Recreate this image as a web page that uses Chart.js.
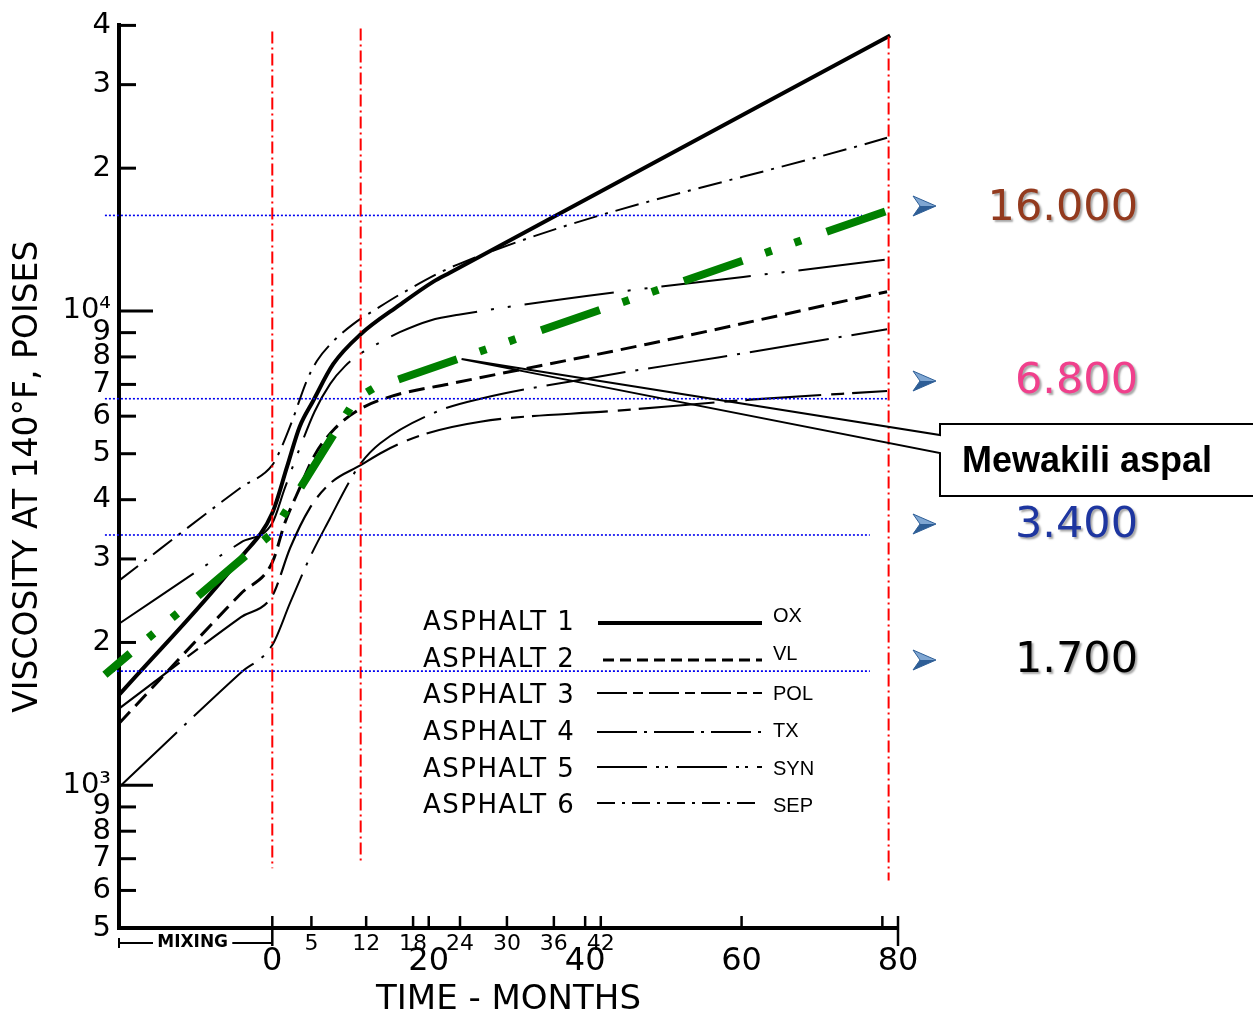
<!DOCTYPE html>
<html><head><meta charset="utf-8">
<script src="https://cdn.jsdelivr.net/npm/chart.js@4.4.1/dist/chart.umd.min.js"></script>
<style>html,body{margin:0;padding:0;background:#fff;overflow:hidden}#wrap{position:relative;width:1253px;height:1014px}</style>
</head><body><div id="wrap"><canvas id="c"></canvas></div>
<script>
// ---------- axes ----------
const xMin = -19.6, xMax = 80;
const yMin = 500, yMax = 40000;
const yTickValues = [500,600,700,800,900,1000,2000,3000,4000,5000,6000,7000,8000,9000,10000,20000,30000,40000];
const yTickLabels = ['5','6','7','8','9','10³','2','3','4','5','6','7','8','9','10⁴','2','3','4'];
const yMajorTicks = [1000, 10000];
const xMinorLabelTicks = [5,12,18,24,30,36,42];
const xMajorLabelTicks = [0,20,40,60,80];
const xTickMarks = [0,5,12,18,20,24,30,36,40,42,60,78,80];

// ---------- asphalt curves (months, viscosity in poises) ----------
const asphalt1Months = [-19.6, -4, 0, 1.9, 3.5, 5.2, 7.8, 11.3, 16.3, 20.6, 22.7, 79];
const asphalt1Visc   = [1550, 3025, 3750, 4700, 5700, 6450, 7730, 8930, 10300, 11530, 12040, 38100];
const asphalt2Months = [-19.6, -4, 0, 1.6, 3.5, 5.4, 8.0, 11.3, 15.4, 22.7, 47.9, 78.6];
const asphalt2Visc   = [1350, 2537, 2950, 3570, 4230, 4960, 5650, 6220, 6620, 7020, 8510, 10980];
const asphalt3Months = [-19.6, -4, 0, 2.3, 4.8, 7.4, 11.3, 14.2, 18.9, 26.6, 44.1, 61.1, 78.6];
const asphalt3Visc   = [1450, 2262, 2510, 3170, 3840, 4330, 4730, 5050, 5460, 5840, 6160, 6500, 6780];
const asphalt4Months = [-19.6, -4, 0, 2.3, 4.8, 7.4, 9.9, 11.3, 13.8, 21.0, 26.6, 41.5, 57.2, 78.6];
const asphalt4Visc   = [990, 1729, 1975, 2430, 3020, 3660, 4380, 4770, 5260, 6130, 6530, 7260, 7990, 9150];
const asphalt5Months = [-19.6, -4, 0, 1.6, 3.5, 5.4, 7.4, 9.3, 11.2, 13.8, 16.3, 20.2, 24.0, 78.3];
const asphalt5Visc   = [2190, 3252, 3570, 4230, 5130, 6130, 7020, 7650, 8110, 8590, 9020, 9550, 9830, 12820];
const asphalt6Months = [-19.6, -4, 0, 1.0, 2.5, 4.4, 5.7, 7.8, 10.3, 13.4, 16.3, 23.6, 78.6];
const asphalt6Visc   = [2700, 4245, 4730, 5080, 5840, 7120, 7840, 8630, 9370, 10120, 10830, 12510, 23190];

// representative asphalt (green)
const greenMonths = [-21.4, 0, 10.2, 11.5, 13.0, 78.8];
const greenVisc   = [1710, 3400, 6340, 6650, 6880, 16300];

// reference lines
const refLineVisc = [15900, 6530, 3370, 1740];
const refLineStart = [-21.4, -21.4, -21.4, -21.4];
const refLineEnd = [75.4, 78.7, 76.4, 76.4];
const refLabels = ['16.000', '6.800', '3.400', '1.700'];
const vLineMonths = [0, 11.3, 78.8];
const vLineBottom = [668, 688, 630];
const vLineTop = [38850, 39400, 37900];
const calloutAnchor = {month: 24.2, visc: 7915};
const calloutText = 'Mewakili aspal';

const legendNames = ['ASPHALT 1','ASPHALT 2','ASPHALT 3','ASPHALT 4','ASPHALT 5','ASPHALT 6'];
const legendCodes = ['OX','VL','POL','TX','SYN','SEP'];

// ---------- build ----------
const pts = (ms, vs) => ms.map((m, i) => ({x: m, y: vs[i]}));
const blackStyles = [
  {w: 4, dash: [], legendDash: []},
  {w: 3, dash: [16, 8], legendDash: [11, 6]},
  {w: 2.2, dash: [76, 10, 13, 8], legendDash: [30, 6, 10, 6]},
  {w: 2, dash: [80, 10, 3, 10], legendDash: [40, 7, 3, 7]},
  {w: 2, dash: [90, 14, 3, 14, 3, 14], legendDash: [50, 9, 3, 6, 3, 9]},
  {w: 2, dash: [24, 8, 3, 8], legendDash: [18, 7, 3, 7]}
];
const asphaltData = [
  pts(asphalt1Months, asphalt1Visc), pts(asphalt2Months, asphalt2Visc), pts(asphalt3Months, asphalt3Visc),
  pts(asphalt4Months, asphalt4Visc), pts(asphalt5Months, asphalt5Visc), pts(asphalt6Months, asphalt6Visc)
];
const datasets = [];
datasets.push({label: 'representative', data: pts(greenMonths, greenVisc), borderColor: '#008000', borderWidth: 8,
  borderDash: [62, 24, 7, 24, 7, 27], borderDashOffset: 29, tension: 0, order: 0});
refLineVisc.forEach((v, i) => datasets.push({label: 'ref' + i, data: [{x: refLineStart[i], y: v}, {x: refLineEnd[i], y: v}],
  borderColor: '#0000EE', borderWidth: 1.6, borderDash: [2, 2], order: 1}));
vLineMonths.forEach((m, i) => datasets.push({label: 'v' + i, data: [{x: m, y: vLineTop[i]}, {x: m, y: vLineBottom[i]}],
  borderColor: '#FF0000', borderWidth: 2, borderDash: [12, 4, 2, 4], order: 2}));
asphaltData.forEach((d, i) => datasets.push({label: legendNames[i], data: d, borderColor: '#000', borderWidth: blackStyles[i].w,
  borderDash: blackStyles[i].dash, cubicInterpolationMode: 'monotone', order: 3}));
datasets.forEach(d => { d.pointRadius = 0; d.fill = false; d.clip = false; });

const FONT = '"DejaVu Sans", sans-serif';
const xLabelTicks = [...xMajorLabelTicks, ...xMinorLabelTicks].sort((a, b) => a - b);

const overlay = {
  id: 'overlay',
  afterDatasetsDraw(chart) {
    const {ctx, chartArea: ca} = chart;
    const xs = chart.scales.x, ys = chart.scales.y;
    ctx.save();
    ctx.setLineDash([]);
    ctx.strokeStyle = '#000'; ctx.fillStyle = '#000';
    // inward y ticks
    ctx.lineWidth = 3;
    yTickValues.forEach(v => {
      const y = ys.getPixelForValue(v);
      const len = yMajorTicks.includes(v) ? 34 : 17;
      ctx.beginPath(); ctx.moveTo(ca.left, y); ctx.lineTo(ca.left + len, y); ctx.stroke();
    });
    // inward x ticks
    ctx.lineWidth = 2.5;
    xTickMarks.forEach(m => {
      const x = xs.getPixelForValue(m);
      const down = (m === 0 || m === 80) ? 18 : 0;
      ctx.beginPath(); ctx.moveTo(x, ca.bottom - 12); ctx.lineTo(x, ca.bottom + down); ctx.stroke();
    });
    // MIXING bracket
    const x0 = xs.getPixelForValue(0), yb = ca.bottom + 15;
    ctx.lineWidth = 2;
    ctx.beginPath();
    ctx.moveTo(ca.left, yb - 5); ctx.lineTo(ca.left, yb + 5);
    ctx.moveTo(ca.left, yb); ctx.lineTo(ca.left + 34, yb);
    ctx.moveTo(x0 - 40, yb); ctx.lineTo(x0, yb);
    ctx.stroke();
    ctx.font = 'bold 17px ' + FONT; ctx.textAlign = 'center'; ctx.textBaseline = 'middle';
    ctx.fillText('MIXING', (ca.left + 34 + x0 - 40) / 2, yb);
    // legend
    const rowText = [630, 667, 703, 740, 777, 813];
    const rowLine = [623, 660, 693, 732, 767, 803];
    const rowCode = [622, 660, 700, 737, 775, 812];
    const lineStart = [598, 603, 597, 597, 597, 597];
    ctx.textAlign = 'left'; ctx.textBaseline = 'alphabetic';
    legendNames.forEach((n, i) => {
      ctx.font = '26px ' + FONT;
      ctx.letterSpacing = '1.5px';
      ctx.fillText(n, 423, rowText[i]);
      ctx.letterSpacing = '0px';
      ctx.font = '20px "Liberation Sans", Arial, sans-serif';
      ctx.fillText(legendCodes[i], 773, rowCode[i]);
      ctx.lineWidth = blackStyles[i].w; ctx.setLineDash(blackStyles[i].legendDash);
      ctx.beginPath(); ctx.moveTo(lineStart[i], rowLine[i]); ctx.lineTo(762, rowLine[i]); ctx.stroke();
    });
    ctx.setLineDash([]);
    // right-hand annotations
    const annY = [220, 393, 537, 672];
    const annArrow = [206, 381, 524, 660];
    const annColor = ['#933A1E', '#F0408C', '#1E36A0', '#000000'];
    refLabels.forEach((t, i) => {
      const ay = annArrow[i], ax = 913;
      ctx.fillStyle = '#7FA6D2';
      ctx.beginPath(); ctx.moveTo(ax + 23, ay); ctx.lineTo(ax, ay - 10); ctx.lineTo(ax + 7, ay); ctx.closePath(); ctx.fill();
      ctx.fillStyle = '#2E5E96';
      ctx.beginPath(); ctx.moveTo(ax + 23, ay); ctx.lineTo(ax, ay + 10); ctx.lineTo(ax + 7, ay); ctx.closePath(); ctx.fill();
      ctx.strokeStyle = '#2E5E96'; ctx.lineWidth = 1;
      ctx.beginPath(); ctx.moveTo(ax + 23, ay); ctx.lineTo(ax, ay - 10); ctx.lineTo(ax + 7, ay); ctx.lineTo(ax, ay + 10); ctx.closePath(); ctx.stroke();
      ctx.save();
      ctx.shadowColor = 'rgba(0,0,0,0.35)'; ctx.shadowOffsetX = 2; ctx.shadowOffsetY = 2; ctx.shadowBlur = 2;
      ctx.fillStyle = annColor[i]; ctx.font = '43px ' + FONT; ctx.textAlign = 'right';
      ctx.fillText(t, 1138, annY[i]);
      ctx.restore();
    });
    // callout
    const axp = xs.getPixelForValue(calloutAnchor.month), ayp = ys.getPixelForValue(calloutAnchor.visc);
    ctx.fillStyle = '#fff'; ctx.fillRect(940, 424, 330, 72);
    ctx.strokeStyle = '#000'; ctx.lineWidth = 2;
    ctx.beginPath();
    ctx.moveTo(1270, 424); ctx.lineTo(940, 424); ctx.lineTo(940, 435); ctx.lineTo(axp, ayp);
    ctx.lineTo(940, 453); ctx.lineTo(940, 496); ctx.lineTo(1270, 496);
    ctx.stroke();
    ctx.fillStyle = '#000'; ctx.font = 'bold 36px "Liberation Sans", Arial, sans-serif'; ctx.textAlign = 'left';
    ctx.fillText(calloutText, 962, 472);
    ctx.restore();
  }
};

new Chart(document.getElementById('c'), {
  type: 'line',
  data: {datasets},
  plugins: [overlay],
  options: {
    responsive: true, maintainAspectRatio: false, animation: false, devicePixelRatio: 1,
    layout: {padding: {left: 0, top: 19, right: 355, bottom: 0}},
    plugins: {legend: {display: false}, tooltip: {enabled: false}},
    scales: {
      x: {
        type: 'linear', position: 'bottom', min: xMin, max: xMax,
        afterBuildTicks: s => { s.ticks = xLabelTicks.map(v => ({value: v})); },
        afterFit: s => { s.height = 86; },
        ticks: {autoSkip: false, maxRotation: 0, padding: 4, color: '#000',
          font: c => (c.tick && xMajorLabelTicks.includes(c.tick.value))
            ? {family: FONT, size: 32, lineHeight: 1.84}
            : {family: FONT, size: 22, lineHeight: 1.1},
          callback: v => String(v)},
        grid: {display: true, drawOnChartArea: false, drawTicks: false, color: 'rgba(0,0,0,0)'},
        border: {display: true, color: '#000', width: 4},
        title: {display: true, text: 'TIME - MONTHS', color: '#000', font: {family: FONT, size: 34, lineHeight: 0.8}, padding: {top: 0, bottom: 0}}
      },
      y: {
        type: 'logarithmic', position: 'left', min: yMin, max: yMax,
        afterBuildTicks: s => { s.ticks = yTickValues.map(v => ({value: v})); },
        afterFit: s => { s.width = 119; },
        ticks: {autoSkip: false, padding: 8, color: '#000', font: {family: FONT, size: 29, lineHeight: 1.2},
          callback: v => yTickLabels[yTickValues.indexOf(v)]},
        grid: {display: true, drawOnChartArea: false, drawTicks: false, color: 'rgba(0,0,0,0)'},
        border: {display: true, color: '#000', width: 4},
        title: {display: true, text: 'VISCOSITY AT 140°F, POISES', color: '#000', font: {family: FONT, size: 33, lineHeight: 1.2}, padding: {top: 9, bottom: 0}}
      }
    }
  }
});
</script>
</body></html>
